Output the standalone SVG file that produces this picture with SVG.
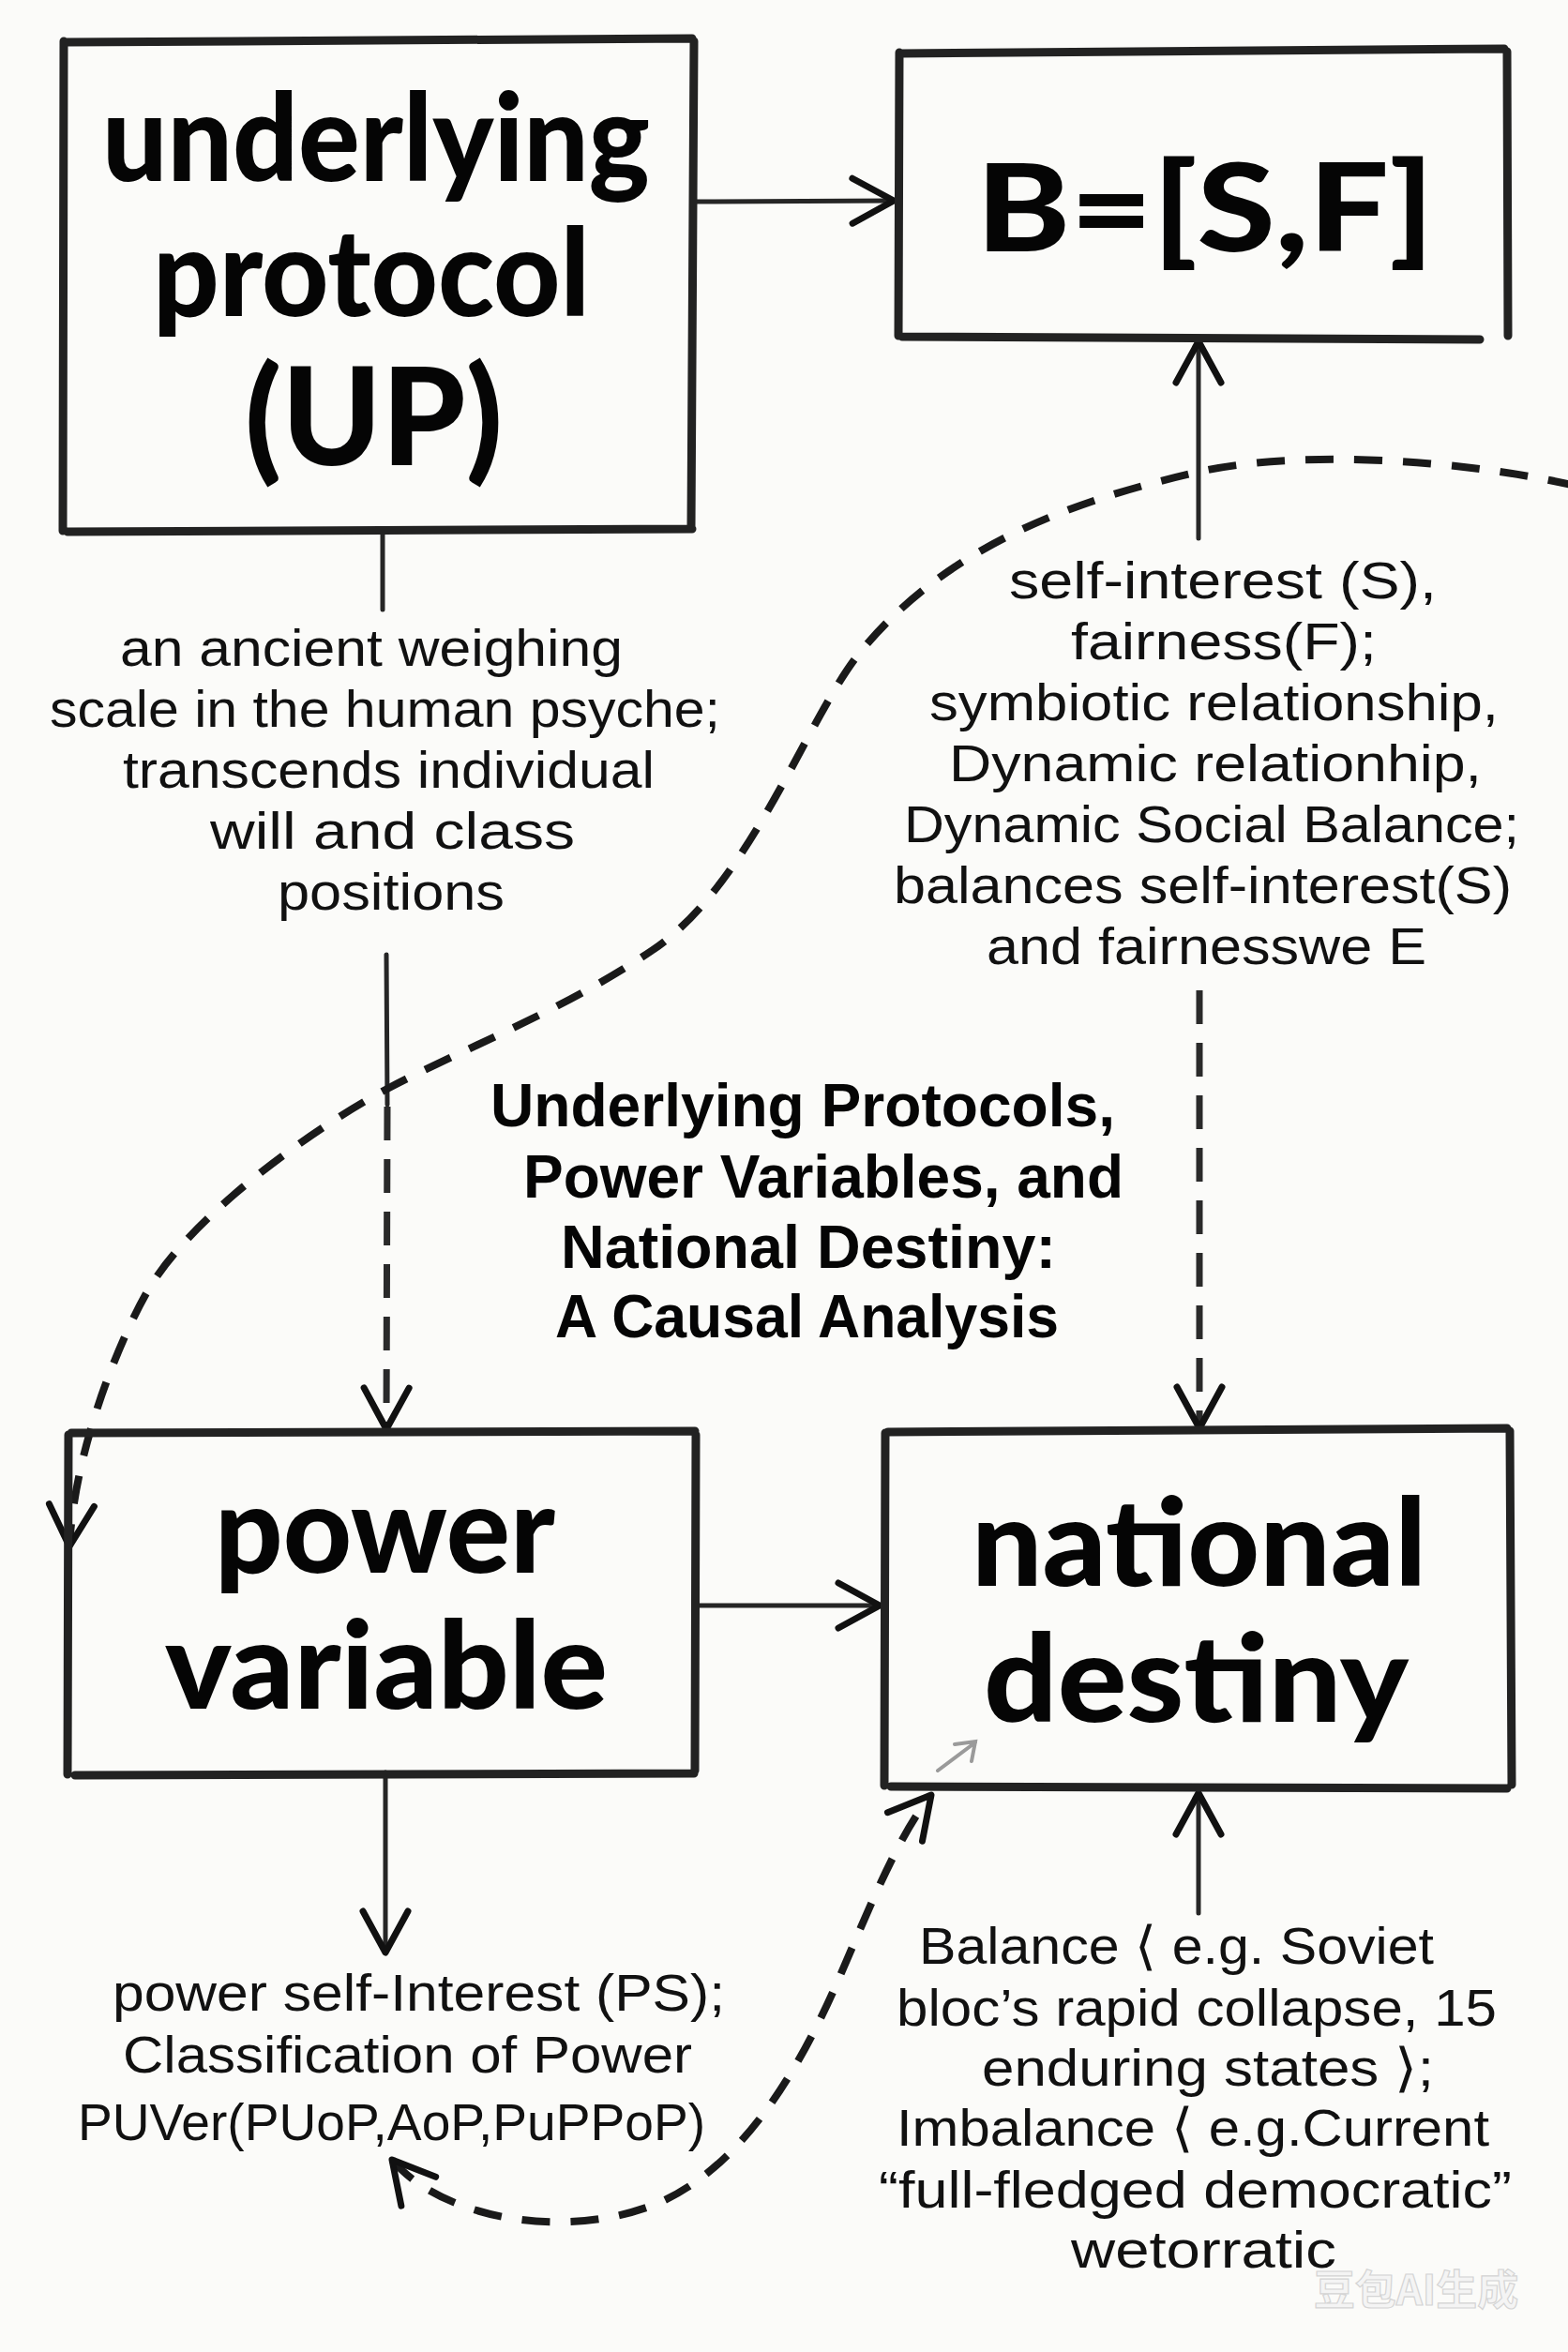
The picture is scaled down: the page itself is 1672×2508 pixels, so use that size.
<svg xmlns="http://www.w3.org/2000/svg" width="1672" height="2508" viewBox="0 0 1672 2508">
<defs>
<style>
.box{fill:none;stroke:#222;stroke-width:9;stroke-linecap:round;stroke-linejoin:round}
.conn{fill:none;stroke:#262626;stroke-width:5;stroke-linecap:round}
.dashc{fill:none;stroke:#1a1a1a;stroke-width:8;stroke-dasharray:30 22}
.dashv{fill:none;stroke:#2a2a2a;stroke-width:7;stroke-dasharray:36 20}
.node{font-family:Lato,"Open Sans","DejaVu Sans",sans-serif;font-weight:900;font-size:130px;fill:#050505}
.note{font-family:"Liberation Sans",Arial,sans-serif;font-size:56px;fill:#111}
.title{font-family:"Liberation Sans Narrow","Liberation Sans",Arial,sans-serif;font-weight:bold;font-size:64px;fill:#050505}
.wm{font-family:"Noto Sans CJK SC",sans-serif;font-weight:bold;font-size:44px;fill:#f4f4f4;stroke:#d4d4d4;stroke-width:1.2}
</style>
<marker id="chev" viewBox="0 0 60 60" refX="52" refY="30" markerWidth="60" markerHeight="60" markerUnits="userSpaceOnUse" orient="auto-start-reverse">
<path d="M8,6 L52,30 L8,54" fill="none" stroke="#111" stroke-width="7" stroke-dasharray="none" stroke-linecap="round" stroke-linejoin="round"/>
</marker>
</defs>
<rect width="1672" height="2508" fill="#fbfbf9"/>

<g id="connectors">
<path class="conn" d="M739,215 L953,214" marker-end="url(#chev)"/>
<path class="conn" d="M1278,574 L1278,364" marker-end="url(#chev)"/>
<path class="conn" d="M408,565 L408,650"/>
<path class="conn" d="M412,1018 L413,1178"/>
<path class="dashv" d="M413,1180 L412,1524" marker-end="url(#chev)"/>
<path class="dashv" d="M1279,1056 L1279,1523" marker-end="url(#chev)"/>
<path class="conn" d="M744,1712 L938,1712" marker-end="url(#chev)"/>
<path class="conn" d="M411,1890 L411,2082" marker-end="url(#chev)"/>
<path class="conn" d="M1278,2040 L1278,1912" marker-end="url(#chev)"/>
<path class="dashc" d="M1680,518 C1560,490 1380,478 1270,505 C1150,533 1010,580 916,697 C860,767 800,943 696,1013 C600,1078 490,1120 413,1161 C330,1205 200,1300 156,1379 C130,1425 80,1540 74,1649" marker-end="url(#chev)"/>
<path class="dashc" d="M418,2303 C470,2365 600,2390 700,2350 C790,2312 850,2210 890,2120 C918,2057 955,1960 993,1914" marker-start="url(#chev)" marker-end="url(#chev)"/>
<path d="M1000,1888 L1040,1858 M1018,1860 L1040,1857 L1036,1878" fill="none" stroke="#9a9a9a" stroke-width="4" stroke-linecap="round"/>
</g>

<g id="node-up">
<path class="box" d="M70,45 L738,41 M740,44 L737,563 M738,564 L72,567 M67,566 L68,44"/>
<text class="node"><tspan x="109" y="193" textLength="584" lengthAdjust="spacingAndGlyphs">underlying</tspan><tspan x="163" y="337" textLength="466" lengthAdjust="spacingAndGlyphs">protocol</tspan><tspan x="261" y="496" font-size="145" textLength="275" lengthAdjust="spacingAndGlyphs">(UP)</tspan></text>
</g>

<g id="node-b">
<path class="box" d="M961,57 L1604,52 M1607,55 L1608,358 M1578,362 L962,359 M958,358 L959,56"/>
<text class="node" x="1041" y="268" font-size="168" textLength="488" lengthAdjust="spacingAndGlyphs">B=[S,F]</text>
</g>

<g id="node-pv">
<path class="box" d="M76,1528 L741,1526 M742,1530 L741,1888 M740,1891 L80,1893 M72,1892 L73,1530"/>
<text class="node"><tspan x="229" y="1677" textLength="363" lengthAdjust="spacingAndGlyphs">power</tspan><tspan x="176" y="1822" textLength="472" lengthAdjust="spacingAndGlyphs">variable</tspan></text>
</g>

<g id="node-nd">
<path class="box" d="M947,1527 L1607,1523 M1610,1526 L1612,1903 M1607,1907 L950,1905 M943,1904 L944,1528"/>
<text class="node"><tspan x="1036" y="1691" textLength="485" lengthAdjust="spacingAndGlyphs">national</tspan><tspan x="1049" y="1836" textLength="453" lengthAdjust="spacingAndGlyphs">destiny</tspan></text>
</g>

<g id="label-up">
<text class="note"><tspan x="128" y="710" textLength="536" lengthAdjust="spacingAndGlyphs">an ancient weighing</tspan><tspan x="53" y="775" textLength="715" lengthAdjust="spacingAndGlyphs">scale in the human psyche;</tspan><tspan x="131" y="840" textLength="567" lengthAdjust="spacingAndGlyphs">transcends individual</tspan><tspan x="224" y="905" textLength="389" lengthAdjust="spacingAndGlyphs">will and class</tspan><tspan x="296" y="970" textLength="242" lengthAdjust="spacingAndGlyphs">positions</tspan></text>
</g>

<g id="label-sf">
<text class="note"><tspan x="1076" y="638" textLength="456" lengthAdjust="spacingAndGlyphs">self-interest (S),</tspan><tspan x="1142" y="703" textLength="326" lengthAdjust="spacingAndGlyphs">fairness(F);</tspan><tspan x="991" y="768" textLength="607" lengthAdjust="spacingAndGlyphs">symbiotic relationship,</tspan><tspan x="1012" y="833" textLength="568" lengthAdjust="spacingAndGlyphs">Dynamic relationhip,</tspan><tspan x="964" y="898" textLength="656" lengthAdjust="spacingAndGlyphs">Dynamic Social Balance;</tspan><tspan x="953" y="963" textLength="659" lengthAdjust="spacingAndGlyphs">balances self-interest(S)</tspan><tspan x="1052" y="1028" textLength="469" lengthAdjust="spacingAndGlyphs">and fairnesswe E</tspan></text>
</g>

<g id="title">
<text class="title"><tspan x="523" y="1201" textLength="666" lengthAdjust="spacingAndGlyphs">Underlying Protocols,</tspan><tspan x="558" y="1277" textLength="640" lengthAdjust="spacingAndGlyphs">Power Variables, and</tspan><tspan x="598" y="1352" textLength="528" lengthAdjust="spacingAndGlyphs">National Destiny:</tspan><tspan x="592" y="1426" textLength="537" lengthAdjust="spacingAndGlyphs">A Causal Analysis</tspan></text>
</g>

<g id="label-pv">
<text class="note"><tspan x="120" y="2144" textLength="653" lengthAdjust="spacingAndGlyphs">power self-Interest (PS);</tspan><tspan x="131" y="2210" textLength="607" lengthAdjust="spacingAndGlyphs">Classification of Power</tspan><tspan x="83" y="2282" textLength="669" lengthAdjust="spacingAndGlyphs">PUVer(PUoP,AoP,PuPPoP)</tspan></text>
</g>

<g id="label-nd">
<text class="note"><tspan x="980" y="2094" textLength="549" lengthAdjust="spacingAndGlyphs">Balance ⟨ e.g. Soviet</tspan><tspan x="956" y="2160" textLength="640" lengthAdjust="spacingAndGlyphs">bloc’s rapid collapse, 15</tspan><tspan x="1047" y="2224" textLength="482" lengthAdjust="spacingAndGlyphs">enduring states ⟩;</tspan><tspan x="956" y="2288" textLength="632" lengthAdjust="spacingAndGlyphs">Imbalance ⟨ e.g.Current</tspan><tspan x="937" y="2354" textLength="675" lengthAdjust="spacingAndGlyphs">“full-fledged democratic”</tspan><tspan x="1142" y="2418" textLength="283" lengthAdjust="spacingAndGlyphs">wetorratic</tspan></text>
</g>

<g id="watermark">
<text class="wm" x="1401" y="2458" textLength="218" lengthAdjust="spacingAndGlyphs">豆包AI生成</text>
</g>
</svg>
